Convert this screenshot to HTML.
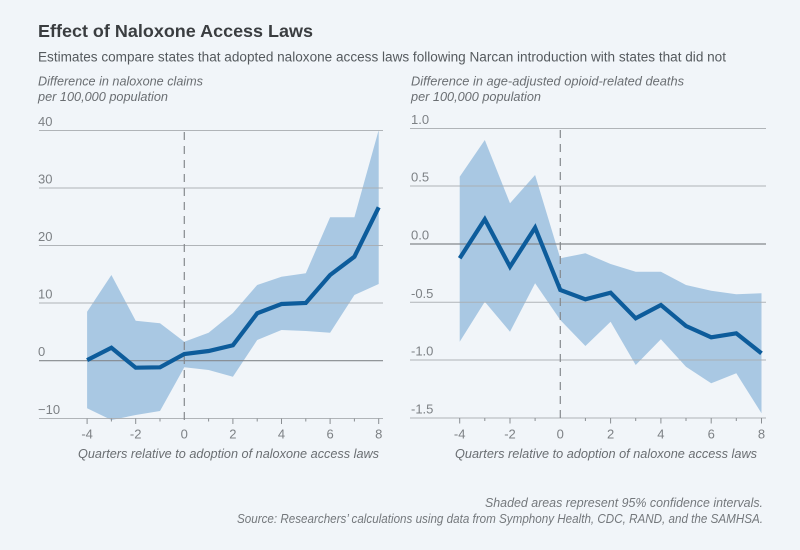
<!DOCTYPE html>
<html>
<head>
<meta charset="utf-8">
<style>
  html, body { margin: 0; padding: 0; background: #f1f5f9; }
  svg { display: block; }
  text { font-family: "Liberation Sans", "DejaVu Sans", sans-serif; }
</style>
</head>
<body>
<svg width="800" height="550" viewBox="0 0 800 550" xmlns="http://www.w3.org/2000/svg">
  <rect x="0" y="0" width="800" height="550" fill="#f1f5f9"/>

  <!-- Title & subtitle -->
  <text x="38" y="37" font-size="17.5" font-weight="bold" fill="#3a3d40" textLength="275" lengthAdjust="spacingAndGlyphs">Effect of Naloxone Access Laws</text>
  <text x="38" y="61.5" font-size="13.5" fill="#555a5e" textLength="688" lengthAdjust="spacingAndGlyphs">Estimates compare states that adopted naloxone access laws following Narcan introduction with states that did not</text>

  <!-- LEFT CHART -->
  <text x="38" y="85.5" font-size="13" font-style="italic" fill="#6a6e72" textLength="165" lengthAdjust="spacingAndGlyphs">Difference in naloxone claims</text>
  <text x="38" y="101" font-size="13" font-style="italic" fill="#6a6e72" textLength="130" lengthAdjust="spacingAndGlyphs">per 100,000 population</text>

  <!-- band -->
  <polygon fill="#a9c8e3" points="87.1,311.7 111.4,275 135.7,320.7 160,323.3 184.3,341.7 208.6,332.7 232.9,313 257.2,285 281.5,276.7 305.8,273.3 330.1,217.3 354.4,217.3 378.7,130 378.7,284 354.4,295 330.1,332.7 305.8,331 281.5,330 257.2,340 232.9,376.7 208.6,370 184.3,367.3 160,411 135.7,415 111.4,420 87.1,408.3"/>

  <!-- gridlines -->
  <g stroke="#a9adb1" stroke-width="1" opacity="0.9">
    <line x1="39" y1="130.5" x2="383" y2="130.5"/>
    <line x1="39" y1="188" x2="383" y2="188"/>
    <line x1="39" y1="245.5" x2="383" y2="245.5"/>
    <line x1="39" y1="303" x2="383" y2="303"/>
    <line x1="39" y1="418.5" x2="383" y2="418.5"/>
  </g>
  <line x1="39" y1="360.7" x2="383" y2="360.7" stroke="#85898d" stroke-width="1.2"/>

  <!-- y labels -->
  <g font-size="13" fill="#7d8185">
    <text x="38" y="126">40</text>
    <text x="38" y="183.5">30</text>
    <text x="38" y="241">20</text>
    <text x="38" y="298.5">10</text>
    <text x="38" y="356">0</text>
    <text x="38" y="414">−10</text>
  </g>

  <!-- dashed zero line -->
  <line x1="184.3" y1="132" x2="184.3" y2="424" stroke="#85898d" stroke-width="1.2" stroke-dasharray="8,6"/>

  <!-- ticks -->
  <g stroke="#8a8e92" stroke-width="1">
    <line x1="87.1" y1="418.5" x2="87.1" y2="424"/>
    <line x1="111.4" y1="418.5" x2="111.4" y2="421.5"/>
    <line x1="135.7" y1="418.5" x2="135.7" y2="424"/>
    <line x1="160" y1="418.5" x2="160" y2="421.5"/>
    <line x1="208.6" y1="418.5" x2="208.6" y2="421.5"/>
    <line x1="232.9" y1="418.5" x2="232.9" y2="424"/>
    <line x1="257.2" y1="418.5" x2="257.2" y2="421.5"/>
    <line x1="281.5" y1="418.5" x2="281.5" y2="424"/>
    <line x1="305.8" y1="418.5" x2="305.8" y2="421.5"/>
    <line x1="330.1" y1="418.5" x2="330.1" y2="424"/>
    <line x1="354.4" y1="418.5" x2="354.4" y2="421.5"/>
    <line x1="378.7" y1="418.5" x2="378.7" y2="424"/>
  </g>
  <g font-size="13" fill="#7d8185" text-anchor="middle">
    <text x="87.1" y="438.5">-4</text>
    <text x="135.7" y="438.5">-2</text>
    <text x="184.3" y="438.5">0</text>
    <text x="232.9" y="438.5">2</text>
    <text x="281.5" y="438.5">4</text>
    <text x="330.1" y="438.5">6</text>
    <text x="378.7" y="438.5">8</text>
  </g>
  <text x="78" y="458" font-size="13" font-style="italic" fill="#6a6e72" textLength="301" lengthAdjust="spacingAndGlyphs">Quarters relative to adoption of naloxone access laws</text>

  <!-- center line -->
  <polyline fill="none" stroke="#0d5c9b" stroke-width="4.2" stroke-linejoin="miter" points="87.1,360.1 111.4,347.7 135.7,367.7 160,367.3 184.3,354 208.6,351 232.9,345.3 257.2,313.3 281.5,304 305.8,303 330.1,275 354.4,256.7 378.7,207.3"/>

  <!-- RIGHT CHART -->
  <text x="411" y="85.5" font-size="13" font-style="italic" fill="#6a6e72" textLength="273" lengthAdjust="spacingAndGlyphs">Difference in age-adjusted opioid-related deaths</text>
  <text x="411" y="101" font-size="13" font-style="italic" fill="#6a6e72" textLength="130" lengthAdjust="spacingAndGlyphs">per 100,000 population</text>

  <polygon fill="#a9c8e3" points="459.7,176.7 484.8,140 510,203.3 535.1,175 560.3,258.3 585.4,253.3 610.6,264 635.7,271.7 660.9,271.7 686,285 711.2,290.7 736.3,294.3 761.5,293.3 761.5,413.3 736.3,373.3 711.2,383.3 686,366.7 660.9,339.3 635.7,365 610.6,321.7 585.4,346 560.3,320 535.1,283.3 510,331.7 484.8,301.7 459.7,341.7"/>

  <g stroke="#a9adb1" stroke-width="1" opacity="0.9">
    <line x1="410" y1="128.5" x2="766" y2="128.5"/>
    <line x1="410" y1="186" x2="766" y2="186"/>
    <line x1="410" y1="302.3" x2="766" y2="302.3"/>
    <line x1="410" y1="360" x2="766" y2="360"/>
    <line x1="410" y1="418" x2="766" y2="418"/>
  </g>
  <line x1="410" y1="244" x2="766" y2="244" stroke="#85898d" stroke-width="1.2"/>

  <g font-size="13" fill="#7d8185">
    <text x="411" y="124">1.0</text>
    <text x="411" y="181.5">0.5</text>
    <text x="411" y="239.5">0.0</text>
    <text x="411" y="298">-0.5</text>
    <text x="411" y="355.5">-1.0</text>
    <text x="411" y="413.5">-1.5</text>
  </g>

  <line x1="560.3" y1="130" x2="560.3" y2="424" stroke="#85898d" stroke-width="1.2" stroke-dasharray="8,6"/>

  <g stroke="#8a8e92" stroke-width="1">
    <line x1="459.7" y1="418" x2="459.7" y2="423.5"/>
    <line x1="484.8" y1="418" x2="484.8" y2="421"/>
    <line x1="510" y1="418" x2="510" y2="423.5"/>
    <line x1="535.1" y1="418" x2="535.1" y2="421"/>
    <line x1="585.4" y1="418" x2="585.4" y2="421"/>
    <line x1="610.6" y1="418" x2="610.6" y2="423.5"/>
    <line x1="635.7" y1="418" x2="635.7" y2="421"/>
    <line x1="660.9" y1="418" x2="660.9" y2="423.5"/>
    <line x1="686" y1="418" x2="686" y2="421"/>
    <line x1="711.2" y1="418" x2="711.2" y2="423.5"/>
    <line x1="736.3" y1="418" x2="736.3" y2="421"/>
    <line x1="761.5" y1="418" x2="761.5" y2="423.5"/>
  </g>
  <g font-size="13" fill="#7d8185" text-anchor="middle">
    <text x="459.7" y="438.5">-4</text>
    <text x="510" y="438.5">-2</text>
    <text x="560.3" y="438.5">0</text>
    <text x="610.6" y="438.5">2</text>
    <text x="660.9" y="438.5">4</text>
    <text x="711.2" y="438.5">6</text>
    <text x="761.5" y="438.5">8</text>
  </g>
  <text x="455" y="458" font-size="13" font-style="italic" fill="#6a6e72" textLength="302" lengthAdjust="spacingAndGlyphs">Quarters relative to adoption of naloxone access laws</text>

  <polyline fill="none" stroke="#0d5c9b" stroke-width="4.2" stroke-linejoin="miter" points="459.7,258.3 484.8,219.3 510,266.7 535.1,227.7 560.3,290 585.4,299.3 610.6,292.7 635.7,318.3 660.9,305 686,326 711.2,337.3 736.3,333.3 761.5,353.3"/>

  <!-- Footer -->
  <text x="763" y="507" font-size="12.5" font-style="italic" fill="#74787c" text-anchor="end" textLength="278" lengthAdjust="spacingAndGlyphs">Shaded areas represent 95% confidence intervals.</text>
  <text x="763" y="523" font-size="12.5" font-style="italic" fill="#74787c" text-anchor="end" textLength="526" lengthAdjust="spacingAndGlyphs">Source: Researchers’ calculations using data from Symphony Health, CDC, RAND, and the SAMHSA.</text>
</svg>
</body>
</html>
